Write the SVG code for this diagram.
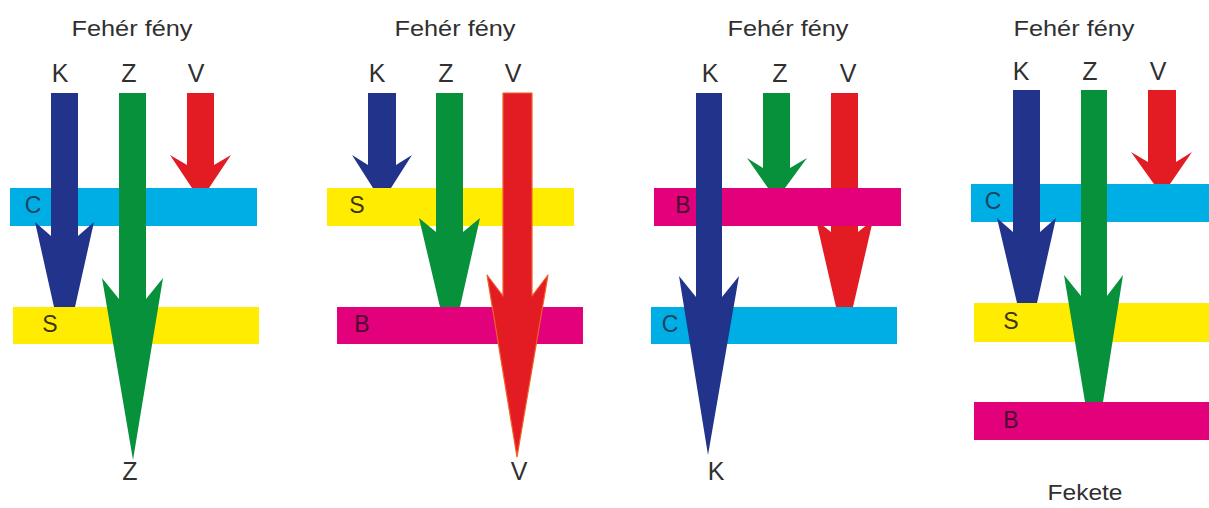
<svg xmlns="http://www.w3.org/2000/svg" width="1209" height="508" viewBox="0 0 1209 508">
<style>
.t{font-family:"Liberation Sans",Arial,sans-serif;fill:#303030}
.title{font-size:22px;text-anchor:middle}
.lbl{font-size:25px;text-anchor:middle}
.bl{font-size:23px;text-anchor:middle}
.cy{fill:#00aee6}.ye{fill:#ffec00}.ma{fill:#e3007b}
.kb{fill:#21338a}.zg{fill:#06913a}.vr{fill:#e31b23}
.vs{stroke:#f0602a;stroke-width:1.2;stroke-linejoin:round}
.lc{fill:#1e4560}.ls{fill:#3a3510}.lb{fill:#4a0b30}
</style>
<rect width="1209" height="508" fill="#fff"/>
<g id="panel1">
<text class="t title" x="132" y="36" textLength="121" lengthAdjust="spacingAndGlyphs">Fehér fény</text>
<text class="t lbl" x="60" y="82">K</text><text class="t lbl" x="129" y="82">Z</text><text class="t lbl" x="196" y="82">V</text>
<g id="p1-bars"><rect class="cy" x="10" y="188" width="247" height="38"/><rect class="ye" x="13" y="307" width="246" height="37"/></g>
<g id="p1-arrows">
<polygon class="kb" points="51,93 78,93 78,236 94,222 75,307 54,307 35,222 51,236"/>
<polygon class="zg" points="119,93 146,93 146,299 163,278 133,460 102,278 119,299"/>
<polygon class="vr" points="187,93 214,93 214,165 231,155 209,188 192,188 170,155 187,165"/>
</g>
<text class="t bl lc" x="33" y="213">C</text><text class="t bl ls" x="50" y="332">S</text>
<text class="t lbl" x="130" y="480">Z</text>
</g>
<g id="panel2">
<text class="t title" x="455" y="36" textLength="121" lengthAdjust="spacingAndGlyphs">Fehér fény</text>
<text class="t lbl" x="377" y="82">K</text><text class="t lbl" x="446" y="82">Z</text><text class="t lbl" x="513" y="82">V</text>
<g id="p2-bars"><rect class="ye" x="327" y="188" width="247" height="38"/><rect class="ma" x="337" y="307" width="246" height="37"/></g>
<g id="p2-arrows">
<polygon class="kb" points="368,93 396,93 396,165 412,155 391,188 373,188 352,155 368,165"/>
<polygon class="zg" points="436,93 463,93 463,232 480,218 460,307 440,307 419,218 436,232"/>
<polygon class="vr vs" points="503,93 532,93 532,296 548,275 517,457 487,275 503,296"/>
</g>
<text class="t bl ls" x="357" y="213">S</text><text class="t bl lb" x="362" y="332">B</text>
<text class="t lbl" x="519" y="480">V</text>
</g>
<g id="panel3">
<text class="t title" x="788" y="36" textLength="121" lengthAdjust="spacingAndGlyphs">Fehér fény</text>
<text class="t lbl" x="710" y="82">K</text><text class="t lbl" x="780" y="82">Z</text><text class="t lbl" x="848" y="82">V</text>
<g id="p3-red-under"><polygon class="vr" points="831,93 858,93 858,232 873,220 853,307 836,307 816,220 831,232"/></g>
<g id="p3-bars"><rect class="ma" x="654" y="188" width="247" height="38"/><rect class="cy" x="651" y="307" width="246" height="37"/></g>
<g id="p3-arrows">
<polygon class="kb" points="696,93 722,93 722,297 739,276 708,455 679,276 696,297"/>
<polygon class="zg" points="763,93 790,93 790,168 807,158 785,188 768,188 747,158 763,168"/>
</g>
<text class="t bl lb" x="683" y="213">B</text><text class="t bl lc" x="670" y="332">C</text>
<text class="t lbl" x="716" y="480">K</text>
</g>
<g id="panel4">
<text class="t title" x="1074" y="36" textLength="121" lengthAdjust="spacingAndGlyphs">Fehér fény</text>
<text class="t lbl" x="1021" y="80">K</text><text class="t lbl" x="1090" y="80">Z</text><text class="t lbl" x="1158" y="80">V</text>
<g id="p4-bars"><rect class="cy" x="971" y="184" width="238" height="38"/><rect class="ye" x="974" y="303" width="235" height="39"/><rect class="ma" x="974" y="402" width="235" height="38"/></g>
<g id="p4-arrows">
<polygon class="kb" points="1013,90 1040,90 1040,232 1056,218 1037,303 1017,303 997,218 1013,232"/>
<polygon class="zg" points="1081,90 1107,90 1107,296 1123,275 1103,402 1085,402 1064,275 1081,296"/>
<polygon class="vr" points="1148,90 1176,90 1176,162 1192,152 1170,184 1154,184 1131,152 1148,162"/>
</g>
<text class="t bl lc" x="993" y="209">C</text><text class="t bl ls" x="1011" y="329">S</text><text class="t bl lb" x="1011" y="428">B</text>
<text class="t title" x="1085" y="500" textLength="75" lengthAdjust="spacingAndGlyphs">Fekete</text>
</g>
</svg>
